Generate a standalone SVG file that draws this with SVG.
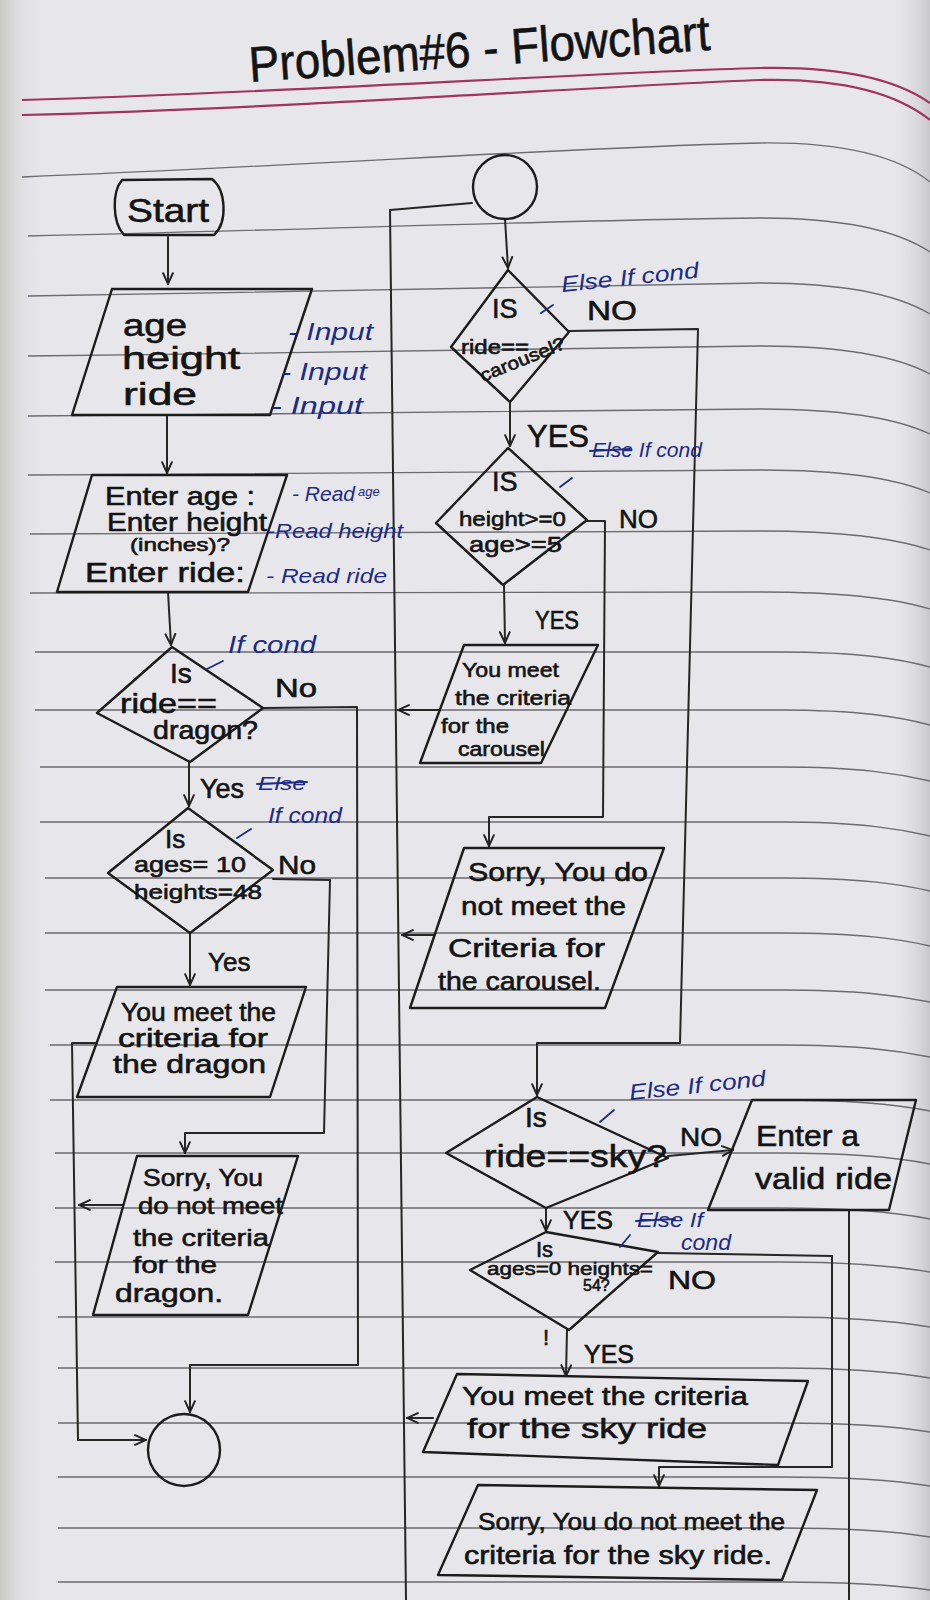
<svg xmlns="http://www.w3.org/2000/svg" width="930" height="1600" viewBox="0 0 930 1600">
<defs>
<style>
.rule{fill:none;stroke:#6c6c70;stroke-width:1.3}
.pink{fill:none;stroke:#a3325f;stroke-width:2.2}
.shape{fill:none;stroke:#1c1c1c;stroke-width:2.4;stroke-linejoin:round;stroke-linecap:round}
.conn{fill:none;stroke:#262626;stroke-width:2;stroke-linejoin:round;stroke-linecap:round}
.t{font-family:"Liberation Sans",Arial,sans-serif;fill:#141414;stroke:#141414;stroke-width:0.6}
.b{font-family:"Liberation Sans",Arial,sans-serif;fill:#1d2a86;font-style:italic}
.bl{fill:none;stroke:#1d2a86;stroke-width:1.8;stroke-linecap:round}
</style>
<marker id="arr" viewBox="0 0 12 12" refX="11" refY="6" markerWidth="13" markerHeight="13" markerUnits="userSpaceOnUse" orient="auto">
<path d="M1,1.5 L11,6 L1,10.5" fill="none" stroke="#222" stroke-width="1.8" stroke-linecap="round"/>
</marker>
<linearGradient id="edgeL" x1="0" y1="0" x2="1" y2="0">
<stop offset="0" stop-color="#c9c9c6"/><stop offset="1" stop-color="#e7e7eb" stop-opacity="0"/>
</linearGradient>
<linearGradient id="edgeR" x1="0" y1="0" x2="1" y2="0">
<stop offset="0" stop-color="#e7e7eb" stop-opacity="0"/><stop offset="1" stop-color="#c8c8cc"/>
</linearGradient>
</defs>

<g id="paper">
<rect x="0" y="0" width="930" height="1600" fill="#e7e7eb"/>
<rect x="0" y="0" width="45" height="1600" fill="url(#edgeL)"/>
<rect x="890" y="0" width="40" height="1600" fill="url(#edgeR)"/>
<path class="pink" d="M22,100 C300,92 600,72 760,68 C850,66 900,82 930,103"/>
<path class="pink" d="M22,115 C300,108 600,86 760,80 C850,78 900,96 930,120"/>
<path class="rule" d="M22,177 C300,166 600,146 760,143 C850,142 900,158 930,182"/>
<path class="rule" d="M28,236 C300,230 600,219 760,218 C850,218 900,232 930,252"/>
<path class="rule" d="M28,296 C300,292 600,284 760,283 C850,283 900,296 930,314"/>
<path class="rule" d="M28,356 C300,353 600,347 760,346 C850,346 900,358 930,374"/>
<path class="rule" d="M28,416 C300,414 600,410 760,409 C850,409 900,420 930,434"/>
<path class="rule" d="M28,475 C300,474 600,471 760,470 C850,470 900,480 930,493"/>
<path class="rule" d="M30,534 C300,533 600,531 760,531 C850,531 900,540 930,550"/>
<path class="rule" d="M30,593 C300,593 600,592 760,592 C850,592 900,600 930,609"/>
<path class="rule" d="M35,652 L780,652 C860,652 900,659 930,667"/>
<path class="rule" d="M35,710 L780,710 C860,710 900,717 930,725"/>
<path class="rule" d="M40,767 L780,767 C860,767 900,774 930,781"/>
<path class="rule" d="M40,822 L780,822 C860,822 900,829 930,836"/>
<path class="rule" d="M45,878 L780,878 C860,878 900,884 930,891"/>
<path class="rule" d="M45,933 L780,933 C860,933 900,939 930,946"/>
<path class="rule" d="M45,990 L780,990 C860,990 900,996 930,1002"/>
<path class="rule" d="M50,1045 L780,1045 C860,1045 900,1051 930,1057"/>
<path class="rule" d="M50,1100 L780,1100 C860,1100 900,1105 930,1111"/>
<path class="rule" d="M55,1153 L780,1153 C860,1153 900,1158 930,1164"/>
<path class="rule" d="M55,1208 L780,1208 C860,1208 900,1213 930,1219"/>
<path class="rule" d="M55,1262 L780,1262 C860,1262 900,1267 930,1272"/>
<path class="rule" d="M58,1317 L780,1317 C860,1317 900,1322 930,1327"/>
<path class="rule" d="M58,1368 L780,1368 C860,1368 900,1373 930,1378"/>
<path class="rule" d="M58,1423 L780,1423 C860,1423 900,1427 930,1432"/>
<path class="rule" d="M58,1477 L780,1477 C860,1477 900,1481 930,1486"/>
<path class="rule" d="M58,1528 L780,1528 C860,1528 900,1532 930,1537"/>
<path class="rule" d="M58,1582 L780,1582 C860,1582 900,1586 930,1590"/>
</g>

<text id="title" class="t" x="250" y="82" font-size="50" textLength="462" lengthAdjust="spacingAndGlyphs" transform="rotate(-4 250 82)">Problem#6 - Flowchart</text>

<g id="connectors">
<path class="conn" d="M168,237 L168,284" marker-end="url(#arr)"/>
<path class="conn" d="M167,415 L167,473" marker-end="url(#arr)"/>
<path class="conn" d="M168,592 L171,645" marker-end="url(#arr)"/>
<path class="conn" d="M263,708 L357,707 L358,1365 L190,1365 L190,1412" marker-end="url(#arr)"/>
<path class="conn" d="M189,762 L189,806" marker-end="url(#arr)"/>
<path class="conn" d="M273,879 L330,880 L324,1133 L185,1133 L185,1153" marker-end="url(#arr)"/>
<path class="conn" d="M190,933 L190,985" marker-end="url(#arr)"/>
<path class="conn" d="M97,1043 L72,1043 L78,1440 L146,1440" marker-end="url(#arr)"/>
<path class="conn" d="M123,1205 L79,1205" marker-end="url(#arr)"/>
<path class="conn" d="M472,203 L390,210 L406,1600"/>
<path class="conn" d="M505,219 L508,268" marker-end="url(#arr)"/>
<path class="conn" d="M569,331 L698,329 L680,1043 L537,1043 L537,1095" marker-end="url(#arr)"/>
<path class="conn" d="M510,402 L510,446" marker-end="url(#arr)"/>
<path class="conn" d="M587,521 L605,521 L603,817 L489,817 L489,846" marker-end="url(#arr)"/>
<path class="conn" d="M504,585 L505,643" marker-end="url(#arr)"/>
<path class="conn" d="M440,710 L398,710" marker-end="url(#arr)"/>
<path class="conn" d="M435,935 L402,935" marker-end="url(#arr)"/>
<path class="conn" d="M668,1156 L733,1150" marker-end="url(#arr)"/>
<path class="conn" d="M849,1210 L849,1600"/>
<path class="conn" d="M546,1208 L546,1231" marker-end="url(#arr)"/>
<path class="conn" d="M658,1253 L832,1256 L832,1467 L659,1467 L659,1486" marker-end="url(#arr)"/>
<path class="conn" d="M567,1330 L566,1376" marker-end="url(#arr)"/>
<path class="conn" d="M433,1418 L407,1418" marker-end="url(#arr)"/>
<text class="t" x="275" y="697" font-size="26" textLength="42" lengthAdjust="spacingAndGlyphs">No</text>
<text class="t" x="200" y="798" font-size="27">Yes</text>
<text class="t" x="278" y="874" font-size="26" textLength="38" lengthAdjust="spacingAndGlyphs">No</text>
<text class="t" x="208" y="971" font-size="26">Yes</text>
<text class="t" x="587" y="320" font-size="28" textLength="50" lengthAdjust="spacingAndGlyphs">NO</text>
<text class="t" x="527" y="447" font-size="31">YES</text>
<text class="t" x="619" y="528" font-size="26">NO</text>
<text class="t" x="535" y="629" font-size="25" textLength="44" lengthAdjust="spacingAndGlyphs">YES</text>
<text class="t" x="680" y="1146" font-size="26" textLength="42" lengthAdjust="spacingAndGlyphs">NO</text>
<text class="t" x="563" y="1229" font-size="25">YES</text>
<text class="t" x="668" y="1289" font-size="26" textLength="48" lengthAdjust="spacingAndGlyphs">NO</text>
<text class="t" x="543" y="1345" font-size="22">!</text>
<text class="t" x="584" y="1363" font-size="25">YES</text>
</g>

<g id="start">
<path class="shape" d="M122,180 L212,179 C226,190 228,222 214,235 L124,235 C112,222 112,192 122,180 Z"/>
<text class="t" x="127" y="222" font-size="34" textLength="82" lengthAdjust="spacingAndGlyphs">Start</text>
</g>

<g id="input-vars">
<polygon class="shape" points="112,289 312,289 270,415 72,415"/>
<text class="t" x="123" y="336" font-size="31" textLength="64" lengthAdjust="spacingAndGlyphs">age</text>
<text class="t" x="122" y="369" font-size="31" textLength="118" lengthAdjust="spacingAndGlyphs">height</text>
<text class="t" x="123" y="405" font-size="31" textLength="74" lengthAdjust="spacingAndGlyphs">ride</text>
</g>

<g id="read-input">
<polygon class="shape" points="92,475 287,475 248,592 57,592"/>
<text class="t" x="105" y="505" font-size="25" textLength="150" lengthAdjust="spacingAndGlyphs">Enter age :</text>
<text class="t" x="107" y="531" font-size="25" textLength="160" lengthAdjust="spacingAndGlyphs">Enter height</text>
<text class="t" x="130" y="551" font-size="18" textLength="100" lengthAdjust="spacingAndGlyphs">(inches)?</text>
<text class="t" x="85" y="582" font-size="27" textLength="160" lengthAdjust="spacingAndGlyphs">Enter ride:</text>
</g>

<g id="is-dragon">
<polygon class="shape" points="172,647 263,708 190,762 97,713"/>
<text class="t" x="170" y="683" font-size="28">Is</text>
<text class="t" x="120" y="713" font-size="28" textLength="97" lengthAdjust="spacingAndGlyphs">ride==</text>
<text class="t" x="153" y="739" font-size="25" textLength="105" lengthAdjust="spacingAndGlyphs">dragon?</text>
</g>

<g id="dragon-criteria">
<polygon class="shape" points="188,808 273,870 190,933 108,873"/>
<text class="t" x="165" y="848" font-size="26">Is</text>
<text class="t" x="134" y="872" font-size="22" textLength="112" lengthAdjust="spacingAndGlyphs">ages= 10</text>
<text class="t" x="134" y="899" font-size="21" textLength="128" lengthAdjust="spacingAndGlyphs">heights=48</text>
</g>

<g id="dragon-yes">
<polygon class="shape" points="117,987 306,987 270,1097 77,1097"/>
<text class="t" x="121" y="1021" font-size="25" textLength="155" lengthAdjust="spacingAndGlyphs">You meet the</text>
<text class="t" x="118" y="1047" font-size="25" textLength="150" lengthAdjust="spacingAndGlyphs">criteria for</text>
<text class="t" x="113" y="1073" font-size="25" textLength="153" lengthAdjust="spacingAndGlyphs">the dragon</text>
</g>

<g id="dragon-no">
<polygon class="shape" points="137,1156 298,1156 248,1315 93,1315"/>
<text class="t" x="143" y="1186" font-size="24" textLength="120" lengthAdjust="spacingAndGlyphs">Sorry, You</text>
<text class="t" x="138" y="1214" font-size="24" textLength="145" lengthAdjust="spacingAndGlyphs">do not meet</text>
<text class="t" x="133" y="1246" font-size="24" textLength="136" lengthAdjust="spacingAndGlyphs">the criteria</text>
<text class="t" x="133" y="1273" font-size="24" textLength="84" lengthAdjust="spacingAndGlyphs">for the</text>
<text class="t" x="115" y="1302" font-size="26" textLength="108" lengthAdjust="spacingAndGlyphs">dragon.</text>
</g>

<g id="end-connector">
<circle class="shape" cx="184" cy="1450" r="36"/>
</g>

<g id="top-connector">
<circle class="shape" cx="505" cy="187" r="32"/>
</g>

<g id="is-carousel">
<polygon class="shape" points="508,270 569,332 510,402 451,347"/>
<text class="t" x="492" y="318" font-size="27">IS</text>
<text class="t" x="461" y="354" font-size="20" textLength="68" lengthAdjust="spacingAndGlyphs">ride==</text>
<text class="t" x="483" y="382" font-size="18" textLength="90" lengthAdjust="spacingAndGlyphs" transform="rotate(-22 483 382)">carousel?</text>
</g>

<g id="carousel-criteria">
<polygon class="shape" points="508,448 587,520 503,585 436,523"/>
<text class="t" x="492" y="491" font-size="27">IS</text>
<text class="t" x="459" y="526" font-size="21" textLength="107" lengthAdjust="spacingAndGlyphs">height&gt;=0</text>
<text class="t" x="469" y="552" font-size="22" textLength="93" lengthAdjust="spacingAndGlyphs">age&gt;=5</text>
</g>

<g id="carousel-yes">
<polygon class="shape" points="464,645 598,645 541,763 420,763"/>
<text class="t" x="462" y="677" font-size="21" textLength="97" lengthAdjust="spacingAndGlyphs">You meet</text>
<text class="t" x="455" y="705" font-size="21" textLength="116" lengthAdjust="spacingAndGlyphs">the criteria</text>
<text class="t" x="441" y="733" font-size="20" textLength="68" lengthAdjust="spacingAndGlyphs">for the</text>
<text class="t" x="458" y="756" font-size="20" textLength="87" lengthAdjust="spacingAndGlyphs">carousel</text>
</g>

<g id="carousel-no">
<polygon class="shape" points="464,848 664,848 605,1008 410,1008"/>
<text class="t" x="468" y="881" font-size="26" textLength="180" lengthAdjust="spacingAndGlyphs">Sorry, You do</text>
<text class="t" x="461" y="915" font-size="26" textLength="165" lengthAdjust="spacingAndGlyphs">not meet the</text>
<text class="t" x="448" y="957" font-size="26" textLength="157" lengthAdjust="spacingAndGlyphs">Criteria for</text>
<text class="t" x="438" y="990" font-size="26" textLength="163" lengthAdjust="spacingAndGlyphs">the carousel.</text>
</g>

<g id="is-sky">
<polygon class="shape" points="537,1097 668,1158 546,1208 446,1153"/>
<text class="t" x="525" y="1127" font-size="28">Is</text>
<text class="t" x="484" y="1167" font-size="31" textLength="183" lengthAdjust="spacingAndGlyphs">ride==sky?</text>
</g>

<g id="invalid-ride">
<polygon class="shape" points="752,1100 916,1100 889,1210 708,1210"/>
<text class="t" x="756" y="1146" font-size="30" textLength="103" lengthAdjust="spacingAndGlyphs">Enter a</text>
<text class="t" x="755" y="1189" font-size="30" textLength="137" lengthAdjust="spacingAndGlyphs">valid ride</text>
</g>

<g id="sky-criteria">
<polygon class="shape" points="546,1232 658,1252 569,1330 470,1270"/>
<text class="t" x="536" y="1257" font-size="22">Is</text>
<text class="t" x="487" y="1275" font-size="18" textLength="166" lengthAdjust="spacingAndGlyphs">ages=0 heights=</text>
<text class="t" x="583" y="1291" font-size="16">54?</text>
</g>

<g id="sky-yes">
<polygon class="shape" points="457,1374 808,1381 778,1465 423,1452"/>
<text class="t" x="462" y="1405" font-size="26" textLength="286" lengthAdjust="spacingAndGlyphs">You meet the criteria</text>
<text class="t" x="467" y="1438" font-size="28" textLength="240" lengthAdjust="spacingAndGlyphs">for the sky ride</text>
</g>

<g id="sky-no">
<polygon class="shape" points="478,1485 817,1490 782,1580 438,1575"/>
<text class="t" x="478" y="1530" font-size="23" textLength="307" lengthAdjust="spacingAndGlyphs">Sorry, You do not meet the</text>
<text class="t" x="464" y="1564" font-size="25" textLength="308" lengthAdjust="spacingAndGlyphs">criteria for the sky ride.</text>
</g>

<g id="annotations">
<text class="b" x="288" y="340" font-size="24" textLength="85" lengthAdjust="spacingAndGlyphs">- Input</text>
<text class="b" x="281" y="380" font-size="24" textLength="86" lengthAdjust="spacingAndGlyphs">- Input</text>
<text class="b" x="271" y="414" font-size="24" textLength="92" lengthAdjust="spacingAndGlyphs">- Input</text>
<text class="b" x="292" y="501" font-size="21">- Read</text>
<text class="b" x="358" y="496" font-size="13">age</text>
<text class="b" x="267" y="538" font-size="21" textLength="136" lengthAdjust="spacingAndGlyphs">-Read height</text>
<text class="b" x="266" y="583" font-size="21" textLength="121" lengthAdjust="spacingAndGlyphs">- Read ride</text>
<path class="bl" d="M207,669 L223,661"/>
<text class="b" x="228" y="653" font-size="24" textLength="88" lengthAdjust="spacingAndGlyphs">If cond</text>
<text class="b" x="258" y="790" font-size="19" textLength="48" lengthAdjust="spacingAndGlyphs">Else</text>
<path class="bl" d="M257,784 L307,782"/>
<path class="bl" d="M237,838 L251,829"/>
<text class="b" x="268" y="823" font-size="22" textLength="74" lengthAdjust="spacingAndGlyphs">If cond</text>
<path class="bl" d="M541,313 L553,305"/>
<text class="b" x="562" y="292" font-size="22" textLength="138" lengthAdjust="spacingAndGlyphs" transform="rotate(-6 562 292)">Else If cond</text>
<text class="b" x="592" y="457" font-size="20" textLength="110" lengthAdjust="spacingAndGlyphs">Else If cond</text>
<path class="bl" d="M590,451 L630,449"/>
<path class="bl" d="M560,487 L572,478"/>
<path class="bl" d="M600,1122 L614,1110"/>
<text class="b" x="630" y="1100" font-size="22" textLength="137" lengthAdjust="spacingAndGlyphs" transform="rotate(-6 630 1100)">Else If cond</text>
<text class="b" x="637" y="1227" font-size="20" textLength="66" lengthAdjust="spacingAndGlyphs">Else If</text>
<path class="bl" d="M636,1221 L675,1219"/>
<text class="b" x="681" y="1250" font-size="22" textLength="50" lengthAdjust="spacingAndGlyphs">cond</text>
<path class="bl" d="M620,1247 L630,1235"/>
</g>
</svg>
